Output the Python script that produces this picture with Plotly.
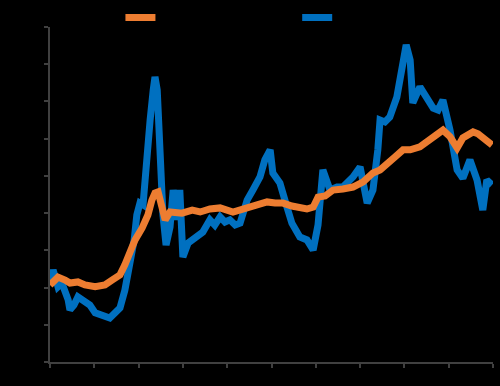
import plotly.graph_objects as go

# Series 1 (orange)
x_orange = [0.0, 1.8, 3.4, 4.5, 6.3, 7.9, 10.2, 12.4, 14.0, 15.8, 16.9, 18.1, 19.2, 20.8, 22.1, 23.0,
            23.7, 24.4, 25.1, 26.0, 27.1, 28.4, 29.8, 32.1, 33.9, 36.1, 38.4, 41.3, 43.3, 45.1, 46.9,
            49.0, 50.8, 52.6, 54.6, 56.4, 58.0, 59.4, 60.5, 62.1, 63.9, 66.1, 68.4, 70.7, 71.8, 72.9,
            74.5, 76.1, 77.9, 79.7, 81.3, 83.5, 85.8, 87.4, 88.7, 90.3, 91.9, 93.2, 94.4, 95.5, 96.6,
            97.7, 98.9, 99.8]
y_orange = [20.7, 22.8, 22.0, 21.2, 21.5, 20.7, 20.2, 20.7, 22.0, 23.4, 26.1, 29.6, 32.8, 36.0, 39.5, 43.5,
            45.4, 45.7, 41.4, 38.2, 40.3, 40.0, 40.0, 40.8, 40.3, 41.1, 41.4, 40.3, 41.1, 41.6, 42.2,
            43.0, 42.7, 42.7, 41.9, 41.4, 41.1, 41.6, 44.3, 44.6, 46.2, 46.5, 47.0, 48.4, 49.4, 50.8,
            51.6, 53.5, 55.1, 57.0, 57.0, 57.8, 59.9, 61.3, 62.3, 60.5, 57.5, 60.2, 61.3, 61.8, 61.3,
            60.2, 59.1, 58.3]

# Series 2 (blue)
x_blue = [0.0, 0.7, 1.4, 1.8, 2.7, 3.4, 4.1, 4.5, 5.4, 6.3, 7.2, 7.9, 9.0, 10.2, 11.3, 12.4, 13.5, 14.7,
          15.8, 16.9, 17.6, 18.3, 19.0, 19.6, 20.3, 21.0, 21.7, 22.6, 23.3, 23.7, 24.2, 24.6, 25.1, 25.5,
          26.2, 27.1, 27.8, 28.7, 29.3, 30.0, 31.2, 32.3, 33.4, 34.5, 36.1, 37.2, 38.4, 39.5, 40.6, 41.8,
          42.9, 44.5, 45.8, 47.4, 48.5, 49.7, 50.3, 51.9, 53.5, 54.6, 56.4, 58.0, 59.4, 60.5, 61.6, 63.2,
          64.8, 66.1, 68.4, 70.0, 71.6, 72.9, 74.0, 74.5, 75.6, 76.7, 78.3, 79.7, 80.4, 81.3, 81.9, 83.5,
          85.1, 86.5, 87.6, 88.7, 90.3, 91.9, 93.2, 94.8, 96.4, 97.7, 98.6, 99.8]
y_blue = [20.7, 24.7, 22.0, 20.2, 21.2, 19.3, 16.7, 14.0, 15.3, 17.5, 16.7, 15.9, 15.3, 13.2, 12.6, 12.1,
          11.8, 13.2, 14.5, 19.3, 23.4, 26.9, 32.8, 39.5, 42.7, 42.2, 50.2, 65.0, 73.1, 76.6, 73.1, 59.6,
          54.3, 39.5, 31.4, 36.3, 46.2, 38.2, 46.2, 28.2, 32.0, 32.8, 33.6, 34.9, 38.2, 36.8, 39.0, 37.6,
          38.2, 36.8, 37.3, 43.5, 46.2, 49.7, 54.3, 57.0, 50.8, 48.1, 41.6, 37.3, 33.6, 32.8, 30.1, 36.8,
          51.6, 46.2, 47.0, 47.0, 49.7, 52.4, 42.7, 46.2, 57.0, 65.0, 64.5, 65.8, 71.2, 81.9, 85.2, 81.1,
          69.6, 73.9, 70.4, 68.2, 67.7, 70.4, 62.3, 51.6, 49.4, 54.3, 48.9, 40.8, 48.9, 47.6]

x_ticks = [0, 10, 20, 30, 40, 50, 60, 70, 80, 90, 100]
y_ticks = [0, 10, 20, 30, 40, 50, 60, 70, 80, 90]

fig = go.Figure()
fig.add_trace(go.Scatter(x=x_blue, y=y_blue, mode="lines", name="Series 2", legend="legend2",
                         line=dict(color="#0070C0", width=7)))
fig.add_trace(go.Scatter(x=x_orange, y=y_orange, mode="lines", name="Series 1", legend="legend",
                         line=dict(color="#ED7D31", width=7)))

axis_common = dict(showgrid=False, zeroline=False, showline=True, linecolor="#404040", linewidth=2,
                   ticks="outside", tickcolor="#404040", ticklen=4, tickwidth=2,
                   tickfont=dict(color="#000000", size=11, family="Liberation Sans"))
fig.update_xaxes(range=[0, 100], tickvals=x_ticks, **axis_common)
fig.update_yaxes(range=[0, 90], tickvals=y_ticks, **axis_common)

legend_common = dict(orientation="h", yanchor="top", y=1.072, xanchor="left",
                     font=dict(color="#000000", size=11, family="Liberation Sans"),
                     bgcolor="rgba(0,0,0,0)")
fig.update_layout(
    width=500, height=386,
    margin=dict(l=50, r=7, t=27, b=24, autoexpand=False),
    paper_bgcolor="#000000", plot_bgcolor="#000000",
    showlegend=True,
    legend=dict(x=0.159, **legend_common),
    legend2=dict(x=0.558, **legend_common),
)

fig.write_html("out.html")
